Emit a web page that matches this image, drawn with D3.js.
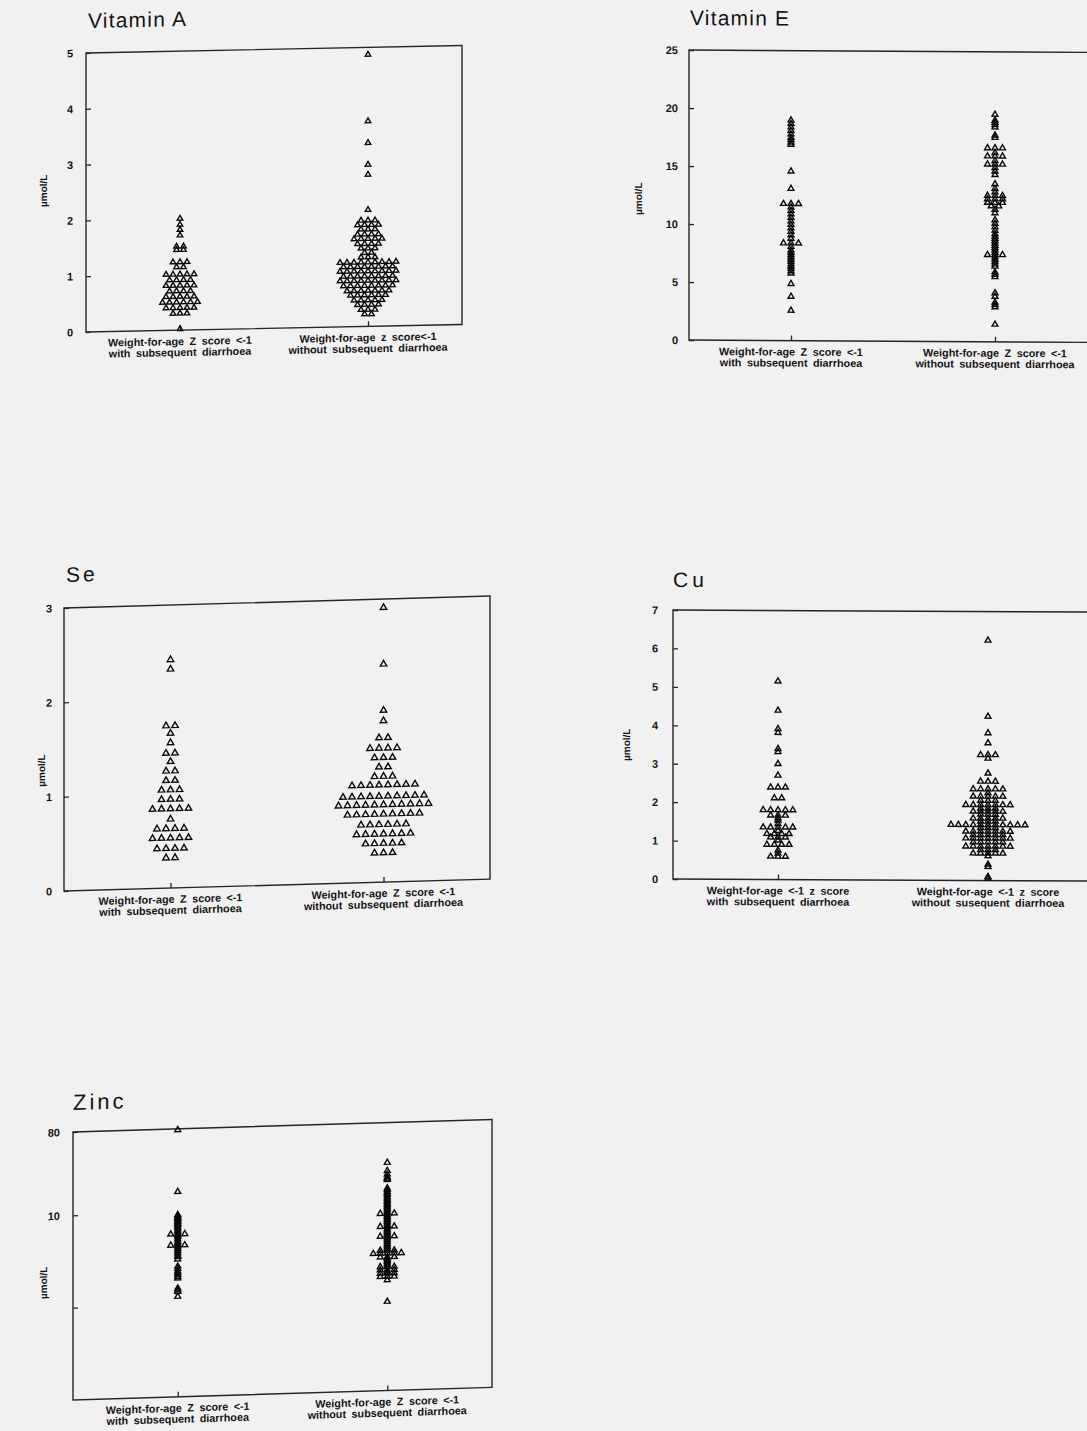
<!DOCTYPE html>
<html>
<head>
<meta charset="utf-8">
<script src="https://cdn.jsdelivr.net/npm/d3@7"></script>
<style>
  html, body { margin: 0; padding: 0; background: #f1f1f1; }
  svg { display: block; }
  text { font-family: "Liberation Sans", Arial, sans-serif; fill: #141414; }
</style>
</head>
<body>
<svg id="page" width="1087" height="1431"></svg>
<script>
// ---- categories ----
const groups = ["with", "without"];

// ---- Vitamin A (µmol/L) ----
const vitAWith = [2.00, 1.89, 1.80, 1.70, 1.50, 1.50, 1.44, 1.44, 1.22, 1.22, 1.22, 1.13, 1.13,
  1.00, 1.00, 1.00, 1.00, 1.00, 0.90, 0.90, 0.90, 0.90, 0.80, 0.80, 0.80, 0.80, 0.80,
  0.70, 0.70, 0.70, 0.70, 0.60, 0.60, 0.60, 0.60, 0.60, 0.50, 0.50, 0.50, 0.50, 0.50, 0.50,
  0.40, 0.40, 0.40, 0.40, 0.40, 0.30, 0.30, 0.30, 0.02];
const vitAWithout = [4.87, 3.68, 3.29, 2.90, 2.72, 2.09,
  1.90, 1.90, 1.90, 1.82, 1.82, 1.82, 1.82, 1.74, 1.74, 1.74, 1.65, 1.65, 1.65, 1.65,
  1.57, 1.57, 1.57, 1.57, 1.57, 1.48, 1.48, 1.48, 1.48, 1.40, 1.40, 1.40, 1.32, 1.32,
  1.24, 1.24, 1.24,
  1.15, 1.15, 1.15, 1.15, 1.15, 1.15, 1.15, 1.15, 1.15,
  1.07, 1.07, 1.07, 1.07, 1.07, 1.07, 1.07, 1.07,
  0.99, 0.99, 0.99, 0.99, 0.99, 0.99, 0.99, 0.99, 0.99,
  0.90, 0.90, 0.90, 0.90, 0.90, 0.90, 0.90, 0.90,
  0.82, 0.82, 0.82, 0.82, 0.82, 0.82, 0.82, 0.82, 0.82,
  0.73, 0.73, 0.73, 0.73, 0.73, 0.73, 0.73, 0.73,
  0.64, 0.64, 0.64, 0.64, 0.64, 0.64, 0.64,
  0.56, 0.56, 0.56, 0.56, 0.56, 0.56,
  0.47, 0.47, 0.47, 0.47, 0.47, 0.39, 0.39, 0.39, 0.39, 0.30, 0.30, 0.30, 0.22, 0.22];
const vitATicks = [0, 1, 2, 3, 4, 5];

// ---- Vitamin E (µmol/L) ----
const vitEWith = [19.0, 18.7, 18.4, 18.1, 17.8, 17.5, 17.3, 17.1, 16.9, 14.6, 13.1,
  11.8, 11.8, 11.8, 11.5, 11.2, 10.9, 10.6, 10.3, 10.0, 9.7, 9.4, 9.1, 8.8,
  8.4, 8.4, 8.4, 8.1, 7.8, 7.6, 7.4, 7.2, 7.0, 6.8, 6.6, 6.4, 6.2, 6.0, 5.8,
  4.9, 3.8, 2.6];
const vitEWithout = [19.6, 19.1, 18.9, 18.7, 18.5, 17.8, 17.6,
  16.7, 16.7, 16.7, 16.3, 16.0, 16.0, 16.0, 15.6, 15.3, 15.3, 15.3, 15.0, 14.7, 14.4,
  13.6, 13.2, 12.9, 12.6, 12.6, 12.6, 12.3, 12.3, 12.3, 12.0, 12.0, 12.0, 11.7, 11.7, 11.4, 11.1,
  10.5, 10.2, 9.9, 9.6, 9.3, 9.1, 8.9, 8.7, 8.5, 8.3, 8.1, 7.9, 7.7, 7.5, 7.5, 7.5,
  7.3, 7.1, 6.9, 6.7, 6.5, 6.0, 5.8, 5.6, 4.2, 3.9, 3.4, 3.2, 3.0, 1.5];
const vitETicks = [0, 5, 10, 15, 20, 25];

// ---- Selenium (µmol/L) ----
const seWith = [2.42, 2.32, 1.72, 1.72, 1.64, 1.54, 1.43, 1.43, 1.34, 1.24, 1.24, 1.14, 1.14,
  1.04, 1.04, 1.04, 0.94, 0.94, 0.94, 0.84, 0.84, 0.84, 0.84, 0.84, 0.73,
  0.63, 0.63, 0.63, 0.63, 0.53, 0.53, 0.53, 0.53, 0.53, 0.42, 0.42, 0.42, 0.42, 0.32, 0.32];
const seWithout = [2.91, 2.31, 1.82, 1.71, 1.53, 1.53, 1.42, 1.42, 1.42, 1.42,
  1.32, 1.32, 1.32, 1.22, 1.22, 1.12, 1.12, 1.12,
  1.03, 1.03, 1.03, 1.03, 1.03, 1.03, 1.03, 1.03,
  0.91, 0.91, 0.91, 0.91, 0.91, 0.91, 0.91, 0.91, 0.91, 0.91,
  0.82, 0.82, 0.82, 0.82, 0.82, 0.82, 0.82, 0.82, 0.82, 0.82, 0.82,
  0.72, 0.72, 0.72, 0.72, 0.72, 0.72, 0.72, 0.72, 0.72,
  0.61, 0.61, 0.61, 0.61, 0.61, 0.61,
  0.51, 0.51, 0.51, 0.51, 0.51, 0.51, 0.51,
  0.41, 0.41, 0.41, 0.41, 0.41, 0.31, 0.31, 0.31];
const seTicks = [0, 1, 2, 3];

// ---- Copper (µmol/L) ----
const cuWith = [5.16, 4.40, 3.92, 3.82, 3.40, 3.32, 3.01, 2.71,
  2.40, 2.40, 2.40, 2.12, 2.12,
  1.81, 1.81, 1.81, 1.81, 1.81, 1.67, 1.67, 1.67, 1.60, 1.54, 1.45,
  1.36, 1.36, 1.36, 1.36, 1.36, 1.27, 1.19, 1.19, 1.19, 1.19, 1.10, 1.10, 1.10, 1.02,
  0.91, 0.91, 0.91, 0.91, 0.76, 0.68, 0.60, 0.60, 0.60];
const cuWithout = [6.25, 4.27, 3.84, 3.58, 3.27, 3.27, 3.27, 3.18, 2.79, 2.58, 2.58, 2.58,
  2.38, 2.38, 2.38, 2.38, 2.38, 2.28, 2.19, 2.19, 2.19, 2.19, 2.19, 2.08, 2.08, 2.08,
  1.97, 1.97, 1.97, 1.97, 1.97, 1.97, 1.97, 1.88, 1.88, 1.88,
  1.80, 1.80, 1.80, 1.80, 1.80, 1.72, 1.72, 1.72, 1.62, 1.62, 1.62, 1.62, 1.62, 1.54, 1.54, 1.54,
  1.45, 1.45, 1.45, 1.45, 1.45, 1.45, 1.45, 1.45, 1.45, 1.45, 1.45,
  1.37, 1.37, 1.37, 1.28, 1.28, 1.28, 1.28, 1.28, 1.28, 1.28,
  1.19, 1.19, 1.19, 1.19, 1.19, 1.10, 1.10, 1.10, 1.10, 1.10, 1.10, 1.10,
  1.00, 1.00, 1.00, 1.00, 1.00, 0.89, 0.89, 0.89, 0.89, 0.89, 0.89, 0.89,
  0.80, 0.80, 0.80, 0.71, 0.71, 0.71, 0.71, 0.71, 0.64, 0.42, 0.36, 0.10, 0.06];
const cuTicks = [0, 1, 2, 3, 4, 5, 6, 7];

// ---- Zinc (µmol/L, log axis) ----
const znWith = [78, 16.7, 9.4, 9.1, 8.8, 8.6, 8.3, 8.0, 7.8, 7.5, 7.3, 7.0, 6.7, 6.4, 6.1,
  5.8, 5.8, 5.8, 5.6, 5.4, 5.1, 4.8, 4.6, 4.4, 4.4, 4.4, 4.2, 4.0, 3.8, 3.6, 3.4, 3.3, 3.1,
  2.6, 2.45, 2.3, 2.2, 2.1, 2.0, 1.93, 1.5, 1.44, 1.38, 1.22];
const znWithout = [29.5, 24.1, 22.0, 20.6, 19.9, 19.2,
  15.6, 15.0, 14.3, 13.7, 13.2, 12.6, 12.1, 11.6, 11.2, 10.7, 10.3, 9.9, 9.5, 9.1, 8.7,
  8.3, 8.3, 8.3, 8.0, 7.7, 7.4, 7.1, 6.8, 6.5, 6.2, 6.0, 6.0, 6.0, 5.7, 5.5, 5.3, 5.1, 4.9,
  4.7, 4.7, 4.7, 4.5, 4.3, 4.1, 3.9, 3.75, 3.6, 3.45, 3.3, 3.3, 3.3,
  3.07, 3.07, 3.07, 3.07, 3.07, 2.8, 2.8, 2.8, 2.7, 2.6, 2.5, 2.4, 2.3, 2.2, 2.2, 2.2,
  2.03, 2.03, 2.03, 1.95, 1.87, 1.87, 1.87, 1.72, 1.72, 1.72, 1.58, 0.92];
const znTicks = [1, 10, 80];
const znTickLabels = ["", "10", "80"];

// ---- category captions ----
const zCaptions = [["Weight-for-age Z score <-1", "with subsequent diarrhoea"],
                   ["Weight-for-age Z score <-1", "without subsequent diarrhoea"]];
const vitACaptions = [["Weight-for-age Z score <-1", "with subsequent diarrhoea"],
                      ["Weight-for-age z score<-1", "without subsequent diarrhoea"]];
const cuCaptions = [["Weight-for-age <-1 z score", "with subsequent diarrhoea"],
                    ["Weight-for-age <-1 z score", "without susequent diarrhoea"]];

const svg = d3.select("#page");
svg.append("rect").attr("width", 1087).attr("height", 1431).attr("fill", "#f1f1f1");

function drawPanel(cfg) {
  // slight vertical shear of each panel
  const g = svg.append("g")
    .attr("transform", `translate(${cfg.left},${cfg.top}) matrix(1,${cfg.shear},0,1,0,0)`);

  const x = d3.scalePoint().domain(groups).range([0, cfg.w]).padding(0.5);
  const y = cfg.log
    ? d3.scaleLog().domain(cfg.domain).range([cfg.h, 0])
    : d3.scaleLinear().domain(cfg.domain).range([cfg.h, 0]);

  // frame
  g.append("rect")
    .attr("width", cfg.w).attr("height", cfg.h)
    .attr("fill", "none").attr("stroke", "#262626").attr("stroke-width", 1.4);

  // y axis, inward ticks
  const yAxis = d3.axisLeft(y).tickValues(cfg.ticks).tickSize(-5).tickPadding(cfg.pad)
    .tickFormat(cfg.tickFormat || d3.format("d"));
  const ya = g.append("g").call(yAxis);
  ya.select(".domain").remove();
  ya.selectAll("line").attr("stroke", "#262626").attr("stroke-width", 1.3);
  ya.selectAll("text").attr("font-family", "Liberation Sans, Arial, sans-serif")
    .attr("font-size", 11).attr("font-weight", "bold").attr("fill", "#111");

  // x axis: inward ticks at the two groups
  const xa = g.append("g").attr("transform", `translate(0,${cfg.h})`)
    .call(d3.axisBottom(x).tickSize(-5).tickFormat(""));
  xa.select(".domain").remove();
  xa.selectAll("line").attr("stroke", "#262626").attr("stroke-width", 1.3);

  // two-line category captions
  cfg.captions.forEach((lines, i) => {
    const t = g.append("text")
      .attr("text-anchor", "middle")
      .attr("y", cfg.h + 15)
      .attr("font-size", 10.8)
      .attr("font-weight", "bold")
      .attr("word-spacing", 2.5)
      .attr("fill", "#111");
    lines.forEach((line, j) => {
      t.append("tspan").attr("x", x(groups[i])).attr("dy", j ? 11 : 0).text(line);
    });
  });

  // dot plot: equal values are placed side by side
  const sym = d3.symbol(d3.symbolTriangle, cfg.size);
  cfg.series.forEach((vals, i) => {
    const pts = [];
    for (const [v, arr] of d3.group(vals, d => d)) {
      arr.forEach((_, k) => pts.push({ v, off: (k - (arr.length - 1) / 2) * cfg.spacing }));
    }
    g.append("g").selectAll("path").data(pts).join("path")
      .attr("transform", d => `translate(${x(groups[i]) + d.off},${y(d.v)})`)
      .attr("d", sym)
      .attr("fill", "none")
      .attr("stroke", "#0a0a0a")
      .attr("stroke-width", 1.4);
  });

  // title
  g.append("text")
    .attr("x", cfg.titleX).attr("y", cfg.titleY)
    .attr("font-size", cfg.titleSize)
    .attr("letter-spacing", cfg.titleSpacing)
    .attr("fill", "#0a0a0a")
    .text(cfg.title);

  // unit label
  g.append("text")
    .attr("transform", `translate(${cfg.unitX},${cfg.unitY}) rotate(-90)`)
    .attr("text-anchor", "middle")
    .attr("font-size", 10)
    .attr("font-weight", "bold")
    .text("µmol/L");
}

const panels = [
  { title: "Vitamin A", series: [vitAWith, vitAWithout], captions: vitACaptions,
    left: 86, top: 53, w: 376, h: 279, shear: -0.02, domain: [0, 5], ticks: vitATicks,
    pad: 13, spacing: 7, size: 13, titleX: 2, titleY: -25, titleSize: 21, titleSpacing: 1.2,
    unitX: -39, unitY: 137 },
  { title: "Vitamin E", series: [vitEWith, vitEWithout], captions: zCaptions,
    left: 689, top: 50, w: 408, h: 290, shear: 0.006, domain: [0, 25], ticks: vitETicks,
    pad: 11, spacing: 7.5, size: 15, titleX: 1, titleY: -25, titleSize: 21, titleSpacing: 1.2,
    unitX: -47, unitY: 149 },
  { title: "Se", series: [seWith, seWithout], captions: zCaptions,
    left: 64, top: 608, w: 426, h: 283, shear: -0.028, domain: [0, 3], ticks: seTicks,
    pad: 12, spacing: 9, size: 18, titleX: 2, titleY: -26, titleSize: 21, titleSpacing: 3,
    unitX: -19, unitY: 162 },
  { title: "Cu", series: [cuWith, cuWithout], captions: cuCaptions,
    left: 673, top: 610, w: 420, h: 269, shear: 0.005, domain: [0, 7], ticks: cuTicks,
    pad: 15, spacing: 7.4, size: 15, titleX: 0, titleY: -23, titleSize: 21, titleSpacing: 4,
    unitX: -43, unitY: 135 },
  { title: "Zinc", series: [znWith, znWithout], captions: zCaptions,
    left: 73, top: 1132, w: 419, h: 268, shear: -0.03, log: true, domain: [0.1, 80],
    ticks: znTicks, tickFormat: (d, i) => znTickLabels[i],
    pad: 13, spacing: 7, size: 15, titleX: 0, titleY: -22, titleSize: 22, titleSpacing: 3,
    unitX: -26, unitY: 150 }
];

panels.forEach(drawPanel);
</script>
</body>
</html>
